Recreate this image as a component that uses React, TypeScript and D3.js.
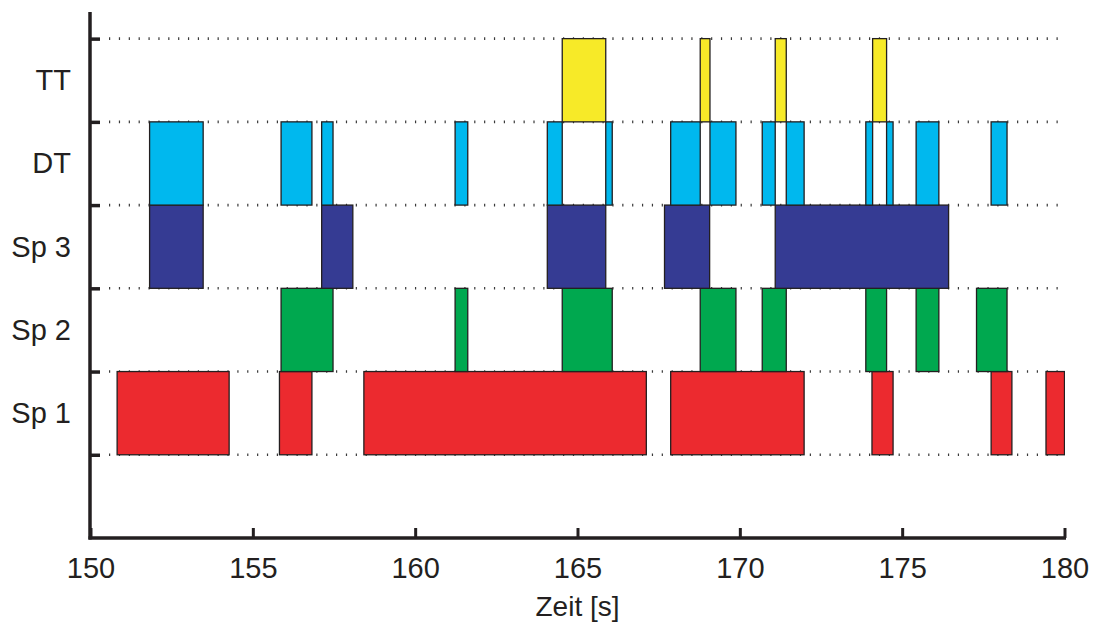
import React, { useRef, useEffect } from "react";
import * as d3 from "d3";

// intervals [start, end] in seconds per row
const sp1 = [[150.82, 154.27], [155.82, 156.82], [158.42, 167.12], [167.87, 171.98], [174.07, 174.72], [177.74, 178.38], [179.43, 180]];
const sp2 = [[155.87, 157.47], [161.23, 161.62], [164.53, 166.07], [168.78, 169.88], [170.69, 171.43], [173.88, 174.52], [175.43, 176.13], [177.29, 178.23]];
const sp3 = [[151.82, 153.47], [157.12, 158.08], [164.07, 165.87], [167.68, 169.07], [171.09, 176.43]];
const dt = [[151.82, 153.47], [155.87, 156.82], [157.12, 157.47], [161.23, 161.62], [164.07, 164.53], [165.87, 166.07], [167.87, 168.78], [169.08, 169.88], [170.69, 171.09], [171.43, 171.98], [173.88, 174.09], [174.52, 174.72], [175.43, 176.13], [177.74, 178.23]];
const tt = [[164.53, 165.87], [168.78, 169.08], [171.09, 171.43], [174.09, 174.52]];

const rowLabels = ["Sp 1", "Sp 2", "Sp 3", "DT", "TT"];
const rowColors = ["#EC2A2F", "#00A84F", "#353B93", "#00B8EE", "#F7EA28"];
const rowData = [sp1, sp2, sp3, dt, tt];
const xTicks = [150, 155, 160, 165, 170, 175, 180];

const W = 1093;
const H = 623;

const App = () => {
    const svgRef = useRef(null);

    useEffect(() => {
        const svg = d3.select(svgRef.current);
        svg.selectAll("*").remove();

        const ink = "#231F20";
        const font = "'Liberation Sans', Arial, Helvetica, sans-serif";

        const x = d3.scaleLinear().domain([150, 180]).range([90.5, 1064.5]);
        const y = d3.scaleLinear().domain([0, 6.32]).range([538, 12]);

        svg.append("defs").append("clipPath")
            .attr("id", "plot-clip")
            .append("rect")
            .attr("x", x(150))
            .attr("y", y(6.32))
            .attr("width", x(180) - x(150) + 0.5)
            .attr("height", y(0) - y(6.32));

        // dotted grid lines at the row borders
        svg.append("g")
            .selectAll("line")
            .data(d3.range(1, 7))
            .enter()
            .append("line")
            .attr("x1", 109)
            .attr("x2", x(180))
            .attr("y1", d => y(d))
            .attr("y2", d => y(d))
            .attr("stroke", "#3a3a3a")
            .attr("stroke-width", 2.6)
            .attr("stroke-dasharray", "1.2 8.67");

        // bars
        const bars = svg.append("g").attr("clip-path", "url(#plot-clip)");
        rowData.forEach((rows, i) => {
            bars.append("g")
                .selectAll("rect")
                .data(rows)
                .enter()
                .append("rect")
                .attr("x", d => x(d[0]))
                .attr("y", y(i + 2))
                .attr("width", d => x(d[1]) - x(d[0]))
                .attr("height", y(i + 1) - y(i + 2))
                .attr("fill", rowColors[i])
                .attr("stroke", ink)
                .attr("stroke-width", 1.3);
        });

        // x axis
        const xAxis = svg.append("g")
            .attr("transform", `translate(0,${y(0)})`)
            .call(d3.axisBottom(x).tickValues(xTicks).tickSizeInner(-10).tickSizeOuter(0).tickPadding(19));
        xAxis.select(".domain")
            .attr("stroke", ink)
            .attr("stroke-width", 3.5)
            .attr("d", `M${x(150) - 2},0H${x(180) + 1.5}`);
        xAxis.selectAll(".tick line").attr("stroke", ink).attr("stroke-width", 3);
        xAxis.selectAll(".tick text")
            .attr("fill", ink)
            .style("font-family", font)
            .style("font-size", "29px");

        // y axis
        const yAxis = svg.append("g")
            .attr("transform", `translate(${x(150) - 0.5},0)`)
            .call(d3.axisLeft(y).tickValues(d3.range(1, 7)).tickSizeInner(-10).tickSizeOuter(0).tickFormat(() => ""));
        yAxis.select(".domain")
            .attr("stroke", ink)
            .attr("stroke-width", 3.5)
            .attr("d", `M0,${y(6.32)}V${y(0) + 1.5}`);
        yAxis.selectAll(".tick line").attr("stroke", ink).attr("stroke-width", 3.5);

        // row labels
        svg.append("g")
            .selectAll("text")
            .data(rowLabels)
            .enter()
            .append("text")
            .attr("x", 71)
            .attr("y", (d, i) => y(i + 1.5) + 10)
            .attr("text-anchor", "end")
            .attr("fill", ink)
            .style("font-family", font)
            .style("font-size", "29px")
            .text(d => d);

        // axis title
        svg.append("text")
            .attr("x", (x(150) + x(180)) / 2)
            .attr("y", 616)
            .attr("text-anchor", "middle")
            .attr("fill", ink)
            .style("font-family", font)
            .style("font-size", "28px")
            .text("Zeit [s]");
    }, []);

    return (
        <svg
            ref={svgRef}
            width={W}
            height={H}
            style={{ position: "absolute", left: 0, top: 0, background: "#fff" }}
        />
    );
};

export default App;
